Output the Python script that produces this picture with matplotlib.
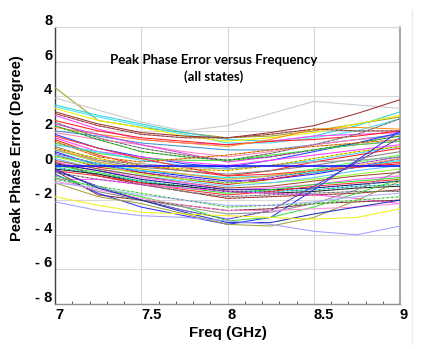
import matplotlib
matplotlib.use("Agg")
import matplotlib.pyplot as plt
from matplotlib.lines import Line2D
from matplotlib.transforms import ScaledTranslation
from matplotlib.ticker import MultipleLocator

freq = [7.0, 7.25, 7.5, 7.75, 8.0, 8.25, 8.5, 8.75, 9.0]

upper_states = [
    [4.5, 2.6, 2.2, 1.9, 1.6, 1.7, 2.0, 2.4, 2.8],
    [3.9, 3.2, 2.5, 2.0, 2.3, 3.0, 3.7, 3.5, 3.3],
    [3.5, 2.9, 2.4, 1.9, 1.5, 1.4, 1.7, 2.3, 3.1],
    [3.4, 2.8, 2.3, 1.8, 1.3, 1.3, 1.6, 2.0, 2.7],
    [3.3, 2.6, 2.2, 1.7, 1.4, 1.6, 1.9, 2.4, 2.9],
    [3.1, 2.4, 1.9, 1.7, 1.6, 1.9, 2.3, 3.0, 3.8],
    [3.0, 2.3, 1.8, 1.6, 1.6, 1.8, 2.1, 2.0, 2.0],
    [2.9, 2.1, 1.5, 1.3, 1.2, 1.4, 1.7, 1.8, 1.9],
    [2.6, 2.0, 1.6, 1.4, 1.2, 1.4, 1.5, 1.7, 2.0],
    [2.2, 1.8, 1.5, 1.3, 1.1, 1.5, 2.1, 2.2, 2.1],
    [2.5, 1.6, 1.0, 0.6, 0.3, 0.7, 1.2, 1.8, 2.7],
    [2.0, 1.7, 1.3, 1.1, 0.9, 0.9, 1.2, 1.5, 1.8],
    [1.9, 1.5, 1.2, 0.8, 0.5, 0.8, 1.2, 1.5, 1.7],
    [2.3, 1.5, 0.8, 0.5, 0.3, 0.5, 0.9, 1.3, 1.7],
    [2.4, 1.8, 1.2, 0.7, 0.2, 0.5, 0.9, 1.2, 1.4],
    [1.8, 1.0, 0.5, 0.1, -0.1, 0.3, 0.8, 1.3, 1.9],
]
upper_colors = ["#a0a020", "#c8c8c8", "#30d0e0", "#40e8f0", "#f0f000", "#a03030",
                "#b05050", "#ff40ff", "#ff2020", "#ff9020", "#909090", "#4090d0",
                "#ff80c0", "#30c030", "#e040e0", "#2040ff"]

middle_states = [
    [1.6, 0.8, 0.5, 0.2, 0.0, 0.3, 0.6, 0.9, 1.2],
    [1.5, 0.6, 0.0, -0.3, -0.6, -0.3, 0.2, 0.6, 1.0],
    [1.3, 0.7, 0.4, 0.3, 0.3, 0.6, 0.9, 1.2, 1.4],
    [1.4, 0.5, 0.2, 0.4, 0.6, 0.9, 1.1, 1.3, 1.5],
    [1.2, 0.8, 0.3, 0.0, -0.2, 0.0, 0.3, 0.7, 1.1],
    [1.1, 0.3, -0.1, -0.3, -0.5, -0.3, 0.0, 0.4, 0.8],
    [1.0, 0.4, 0.0, -0.2, -0.3, 0.0, 0.4, 0.8, 1.1],
    [0.9, 0.2, -0.2, -0.5, -0.8, -0.6, -0.2, 0.2, 0.6],
    [0.8, 0.0, -0.3, -0.6, -0.9, -0.8, -0.5, -0.1, 0.4],
    [0.7, 0.1, -0.4, -0.7, -1.0, -0.7, -0.3, 0.1, 0.5],
    [0.6, -0.1, -0.4, -0.8, -1.1, -0.8, -0.4, -0.1, 0.1],
    [0.5, 0.0, -0.5, -0.8, -1.0, -1.0, -0.8, -0.5, -0.2],
    [0.4, -0.2, -0.6, -0.9, -1.2, -1.0, -0.7, -0.3, 0.0],
    [0.6, 0.1, -0.3, -0.5, -0.7, -0.6, -0.4, -0.1, 0.3],
    [1.7, 1.0, 0.4, -0.1, -0.6, -0.5, -0.3, -0.1, 0.2],
    [0.9, 0.3, 0.1, -0.1, -0.2, 0.0, 0.2, 0.3, 0.5],
    [1.0, 0.2, -0.2, -0.5, -0.8, -0.6, -0.3, 0.0, 0.4],
    [0.3, -0.2, -0.6, -1.0, -1.3, -1.2, -0.9, -0.6, -0.4],
    [0.2, -0.3, -0.7, -1.0, -1.4, -1.3, -1.1, -0.8, -0.6],
    [0.1, -0.3, -0.8, -1.1, -1.4, -1.4, -1.3, -1.1, -0.9],
    [0.2, -0.6, -1.1, -1.5, -1.9, -1.8, -1.7, -1.6, -1.4],
]
middle_colors = ["#ff40ff", "#ff2020", "#40e040", "#ff9020", "#40d0ff", "#808080",
                 "#f0e000", "#50ff50", "#2020ff", "#b060ff", "#e02020", "#90ff30",
                 "#60c0ff", "#20e0e0", "#ff3030", "#a0a0a0", "#ffa040", "#a05030",
                 "#ff60ff", "#2020a0", "#c04040"]

lower_states = [
    [0.0, -0.4, -0.9, -1.3, -1.6, -1.4, -1.1, -0.9, -0.7],
    [-0.1, -0.5, -0.9, -1.2, -1.5, -1.5, -1.4, -1.2, -1.1],
    [-0.2, -0.5, -1.0, -1.2, -1.5, -1.6, -1.5, -1.3, -1.2],
    [-0.3, -0.6, -1.0, -1.4, -1.7, -1.5, -1.2, -1.0, -0.8],
    [-0.4, -0.8, -1.1, -1.5, -1.8, -1.7, -1.6, -1.5, -1.5],
    [-0.8, -0.8, -1.1, -1.3, -1.5, -1.6, -1.7, -1.9, -2.2],
    [-0.3, -1.7, -2.0, -2.3, -2.6, -2.5, -2.2, -2.1, -2.0],
    [-0.5, -1.6, -2.4, -2.9, -3.4, -3.0, -1.4, 0.3, 2.0],
    [-0.3, -1.2, -2.0, -2.6, -3.1, -2.6, -1.2, 0.2, 1.6],
    [-0.6, -1.3, -1.8, -2.4, -3.2, -3.0, -2.4, -1.6, -0.8],
    [-0.7, -1.5, -2.0, -2.4, -2.8, -2.7, -2.2, -1.4, -0.3],
    [-1.0, -1.8, -2.2, -2.8, -3.4, -3.5, -3.0, -2.0, -0.9],
    [-0.8, -1.2, -1.6, -2.0, -2.4, -2.3, -2.2, -2.0, -1.8],
    [-0.9, -1.4, -1.9, -2.3, -2.6, -2.6, -2.5, -2.4, -2.2],
    [-1.0, -1.3, -1.7, -2.0, -2.3, -2.3, -2.1, -1.8, -1.6],
    [-0.2, -1.3, -2.0, -2.7, -3.3, -3.3, -2.8, -2.4, -2.0],
    [-1.8, -2.3, -2.7, -2.8, -2.9, -3.0, -3.1, -3.0, -2.5],
    [-2.1, -2.6, -2.9, -3.0, -3.2, -3.4, -3.8, -4.0, -3.5],
]
lower_colors = ["#30e030", "#30e0e0", "#303030", "#ff3030", "#a0a0a0", "#ff50ff",
                "#a04040", "#3030ff", "#7050e0", "#40e040", "#909090", "#a0a040",
                "#80ff80", "#ff90e0", "#b0b0ff", "#2030c0", "#f0f020", "#a0a0ff"]

dashed_overlay = [6, 10, 13, 19, 22, 25, 35, 36, 38, 39, 41, 43, 45, 49]

reference_state = [0.0, 0.0, 0.0, 0.0, 0.0, 0.0, 0.0, 0.0, 0.0]

yticks = [-8, -6, -4, -2, 0, 2, 4, 6, 8]
ytick_labels = ["- 8", "- 6", "- 4", "- 2", "0", "2", "4", "6", "8"]
xticks = [7, 7.5, 8, 8.5, 9]
xtick_labels = ["7", "7.5", "8", "8.5", "9"]

W, H = 423, 349
fig = plt.figure(figsize=(W / 100, H / 100), dpi=100)
ax = fig.add_axes([55 / W, 1 - 304 / H, 345 / W, 277 / H])

all_states = upper_states + middle_states + lower_states
all_colors = upper_colors + middle_colors + lower_colors
for i, (vals, col) in enumerate(zip(all_states, all_colors)):
    ax.plot(freq, vals, color=col, lw=0.75, zorder=3)
    if i in dashed_overlay:
        ax.plot(freq, vals, color="#202020", lw=0.6, ls=(0, (1.5, 4)), zorder=4, alpha=0.7)
ax.plot(freq, reference_state, color="#1010ff", lw=1.1, zorder=5)

ax.set_xlim(7, 9)
ax.set_ylim(-8, 8)
ax.set_yticks(yticks)
ax.set_xticks(xticks)
ax.set_yticklabels(ytick_labels)
ax.set_xticklabels(xtick_labels)
ax.xaxis.set_minor_locator(MultipleLocator(0.1))
ax.tick_params(axis="both", which="major", length=0, labelsize=10.5, colors="black")
ax.tick_params(axis="y", pad=2)
ax.tick_params(axis="x", pad=3)
ax.tick_params(axis="x", which="minor", length=2, direction="in", color="#404040", width=0.6)
for lab in ax.get_yticklabels():
    lab.set_fontweight("bold")
    lab.set_fontfamily("Liberation Sans")
    lab.set_va("center")
    lab.set_transform(lab.get_transform() + ScaledTranslation(0, 6 / 100, fig.dpi_scale_trans))
for lab in ax.get_xticklabels():
    lab.set_fontweight("bold")
    lab.set_fontfamily("Liberation Sans")
    lab.set_ha("left")

ax.grid(True, which="major", color="#d8d8d8", lw=0.8, zorder=0)
ax.set_axisbelow(True)
ax.spines["left"].set_color("#404040")
ax.spines["left"].set_linewidth(1.0)
ax.spines["bottom"].set_color("#909090")
ax.spines["bottom"].set_linewidth(1.0)
ax.spines["right"].set_color("#a8a8a8")
ax.spines["right"].set_linewidth(1.5)
ax.spines["top"].set_color("#d8d8d8")
ax.spines["top"].set_linewidth(0.8)

ax.text(0.46, 0.88, "Peak Phase Error versus Frequency", transform=ax.transAxes,
        ha="center", va="center", fontsize=9.5, fontweight="bold", family="Lato")
ax.text(0.46, 0.82, "(all states)", transform=ax.transAxes,
        ha="center", va="center", fontsize=9.5, fontweight="bold", family="Lato")

fig.text(17 / W, 1 - 148 / H, "Peak Phase Error (Degree)", rotation=90, ha="center",
         va="center", fontsize=10.5, fontweight="bold", family="Liberation Sans")
fig.text(228 / W, 1 - 333 / H, "Freq (GHz)", ha="center", va="center", fontsize=11,
         fontweight="bold", family="Liberation Sans")

fig.add_artist(Line2D([412 / W, 412 / W], [1 - 10 / H, 1 - 343 / H], transform=fig.transFigure,
                      color="#ececec", lw=1))

fig.savefig("out.png", dpi=100)
